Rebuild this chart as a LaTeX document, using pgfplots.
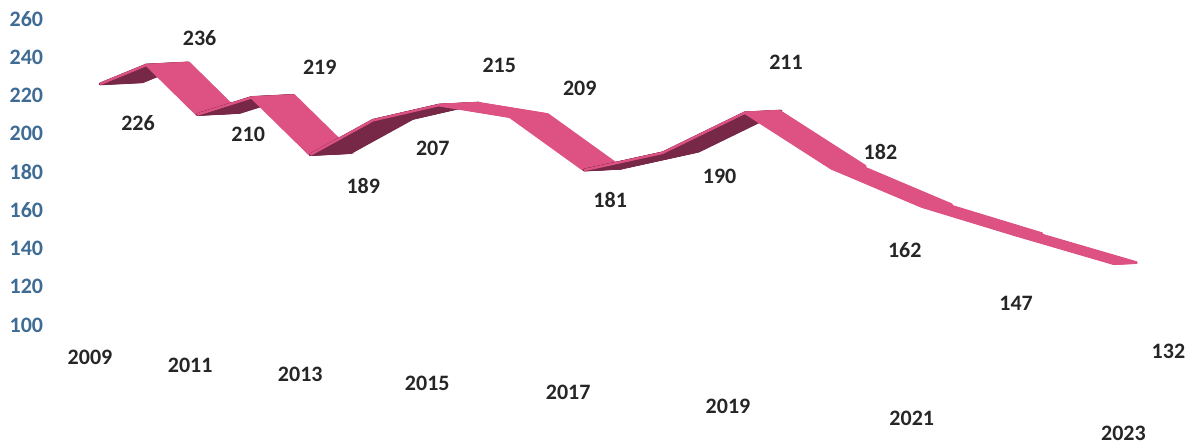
\documentclass[border=0pt]{standalone}
\usepackage{pgfplots}
\pgfplotsset{compat=1.18}
\usepackage{fontspec}
\setmainfont{Carlito}
\definecolor{ribpink}{RGB}{221,82,130}
\definecolor{ribdark}{RGB}{118,40,70}
\definecolor{tickblue}{RGB}{62,108,148}
\definecolor{labgray}{RGB}{38,38,38}
\tikzset{
  lab/.style={font=\fontsize{11}{13}\selectfont\bfseries, text=labgray},
  yr/.style={font=\fontsize{11}{13}\selectfont\bfseries, text=labgray},
}
% #1 colour, #2 depth (pt), #3 coordinates
\newcommand\ribbon[3]{%
  \pgfplotsinvokeforeach{0,0.5,...,#2}{%
    \addplot[#1, line width=1.4pt, line join=round, line cap=round,
      transform canvas={xshift=##1pt, yshift={0.05*##1pt}}] coordinates {#3};}%
}
\begin{document}
\begin{tikzpicture}
\useasboundingbox (0,0) rectangle (593.5pt,221.5pt);
\begin{axis}[
  at={(34.9pt,59pt)}, anchor=south west,
  scale only axis, width=547.65pt, height=153pt,
  x coord trafo/.code={\pgfmathparse{44.6*(#1-2009)+1.99*(#1-2009)*(#1-2009)}},
  x coord inv trafo/.code={\pgfmathparse{2009+(-44.6+sqrt(44.6*44.6+7.96*#1))/3.98}},
  xmin=2008.3, xmax=2023.5, ymin=100, ymax=260,
  xtick=\empty, ytick={100,120,...,260},
  axis line style={draw=none}, major tick length=0pt,
  clip=false,
  /pgf/number format/assume math mode=true,
  yticklabel style={font=\fontsize{11}{13}\selectfont\bfseries, text=tickblue, anchor=west, xshift=-33.6pt},
]
\ribbon{ribdark}{21}{(2009,226)(2010,236)}
\addplot[ribpink, line width=1.2pt] coordinates {(2009,226)(2010,236)};
\ribbon{ribpink}{21}{(2010,236)(2011,210)}
\ribbon{ribdark}{21}{(2011,210)(2012,219)}
\addplot[ribpink, line width=1.2pt] coordinates {(2011,210)(2012,219)};
\ribbon{ribpink}{21}{(2012,219)(2013,189)}
\ribbon{ribdark}{20}{(2013,189)(2014,207)(2015,215)}
\addplot[ribpink, line width=1.2pt] coordinates {(2013,189)(2014,207)(2015,215)};
\ribbon{ribpink}{19}{(2015,215)(2016,209)(2017,181)}
\ribbon{ribdark}{18}{(2017,181)(2018,190)(2019,211)}
\addplot[ribpink, line width=1.2pt] coordinates {(2017,181)(2018,190)(2019,211)};
\ribbon{ribpink}{17}{(2019,211)(2020,182)}
\ribbon{ribpink}{15}{(2020,182)(2021,162)}
\ribbon{ribpink}{13}{(2021,162)(2022,147)}
\ribbon{ribpink}{11}{(2022,147)(2023,132)}
% data labels
\node[lab, xshift=19pt, yshift=-19.5pt] at (axis cs:2009,226) {226};
\node[lab, xshift=26.5pt, yshift=13.5pt] at (axis cs:2010,236) {236};
\node[lab, xshift=25.5pt, yshift=-10pt] at (axis cs:2011,210) {210};
\node[lab, xshift=34pt, yshift=15pt] at (axis cs:2012,219) {219};
\node[lab, xshift=26.5pt, yshift=-15.5pt] at (axis cs:2013,189) {189};
\node[lab, xshift=30pt, yshift=-14pt] at (axis cs:2014,207) {207};
\node[lab, xshift=30pt, yshift=20pt] at (axis cs:2015,215) {215};
\node[lab, xshift=35pt, yshift=14pt] at (axis cs:2016,209) {209};
\node[lab, xshift=13pt, yshift=-15pt] at (axis cs:2017,181) {181};
\node[lab, xshift=28.5pt, yshift=-11.5pt] at (axis cs:2018,190) {190};
\node[lab, xshift=20.5pt, yshift=25pt] at (axis cs:2019,211) {211};
\node[lab, xshift=24.5pt, yshift=8pt] at (axis cs:2020,182) {182};
\node[lab, xshift=-8.5pt, yshift=-22pt] at (axis cs:2021,162) {162};
\node[lab, xshift=0pt, yshift=-34pt] at (axis cs:2022,147) {147};
\node[lab, xshift=27pt, yshift=-44pt] at (axis cs:2023,132) {132};
% year labels
\node[yr, xshift=-5pt, yshift=-16pt] at (axis cs:2009,100) {2009};
\node[yr, xshift=-3.5pt, yshift=-20pt] at (axis cs:2011,100) {2011};
\node[yr, xshift=-5pt, yshift=-24.5pt] at (axis cs:2013,100) {2013};
\node[yr, xshift=-6pt, yshift=-29pt] at (axis cs:2015,100) {2015};
\node[yr, xshift=-8pt, yshift=-33.5pt] at (axis cs:2017,100) {2017};
\node[yr, xshift=-8.5pt, yshift=-40.5pt] at (axis cs:2019,100) {2019};
\node[yr, xshift=-5pt, yshift=-46.5pt] at (axis cs:2021,100) {2021};
\node[yr, xshift=4.5pt, yshift=-54pt] at (axis cs:2023,100) {2023};
\end{axis}
\end{tikzpicture}
\end{document}
